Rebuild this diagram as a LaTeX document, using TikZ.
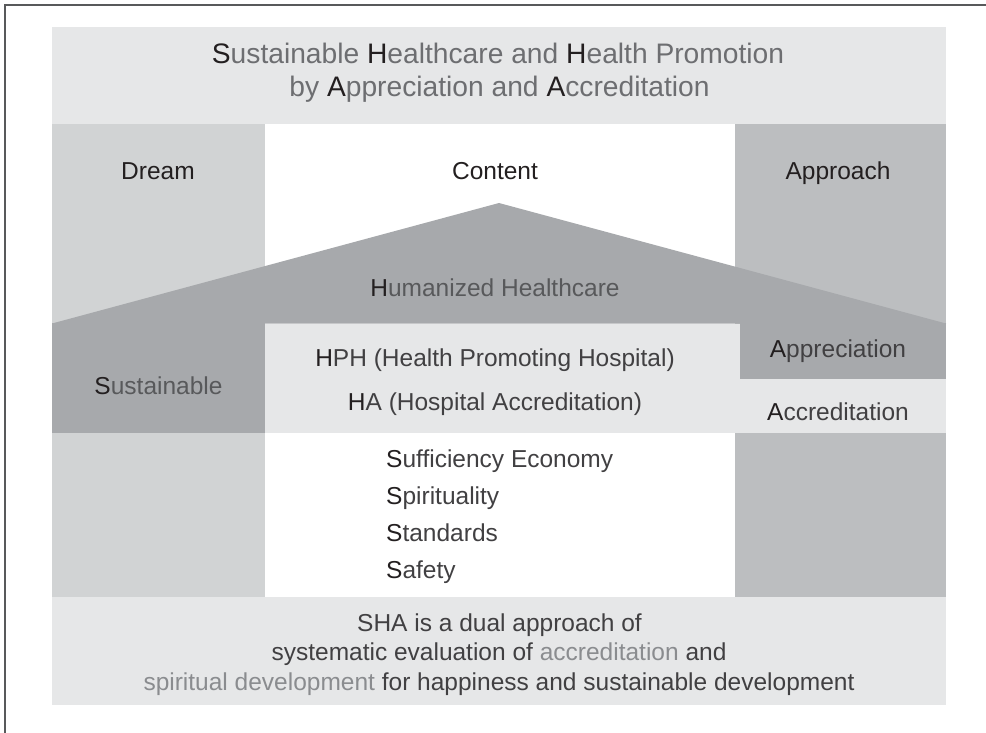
\documentclass[tikz,border=0pt]{standalone}
\usepackage{fontspec}
\setmainfont{Liberation Sans}
\definecolor{bandlight}{HTML}{E6E7E8}
\definecolor{colleft}{HTML}{D1D3D4}
\definecolor{colright}{HTML}{BCBEC0}
\definecolor{roofgrey}{HTML}{A7A9AC}
\definecolor{inkdark}{HTML}{231F20}
\definecolor{inkmid}{HTML}{414042}
\definecolor{inkgrey}{HTML}{58595B}
\definecolor{inktitle}{HTML}{6D6E71}
\definecolor{inklight}{HTML}{8A8C8F}
\definecolor{framegrey}{HTML}{58595B}
\newcommand{\ini}[1]{\textcolor{inkdark}{#1}}
\begin{document}
\begin{tikzpicture}[x=1pt,y=-1pt,
  lbl/.style={font=\fontsize{24.5}{29}\selectfont, anchor=base, inner sep=0pt, text=inkdark},
  sublbl/.style={lbl, text=inkgrey},
  ttl/.style={font=\fontsize{28.2}{34}\selectfont, anchor=base, inner sep=0pt, text=inktitle},
  listlbl/.style={lbl, anchor=base west, text=inkmid},
  botlbl/.style={lbl, text=inkmid}]
\useasboundingbox (0,0) rectangle (986,733);
% frame
\draw[line width=2pt, framegrey] (5,733) -- (5,5) -- (986,5);
% bands and columns
\fill[bandlight] (52,27) rectangle (946,124);
\fill[colleft] (52,124) rectangle (265,597);
\fill[colright] (735,124) rectangle (946,597);
\fill[roofgrey] (52,323.5) -- (499,203) -- (946,323.5) -- cycle;
\fill[roofgrey] (52,323) rectangle (265,433);
\fill[bandlight] (265,323.5) rectangle (740,433);
\fill[roofgrey] (740,323) rectangle (946,379);
\fill[bandlight] (740,379) rectangle (946,433);
\fill[bandlight] (52,597) rectangle (946,705);
% title
\node[ttl] (title1) at (498,63.5) {\ini{S}ustainable \ini{H}ealthcare and \ini{H}ealth Promotion};
\node[ttl] (title2) at (499.5,97) {by \ini{A}ppreciation and \ini{A}ccreditation};
% column headings
\node[lbl] (dream) at (158,179) {Dream};
\node[lbl] (content) at (495,179) {Content};
\node[lbl] (approach) at (838,179) {Approach};
% roof and middle
\node[sublbl] (humanized) at (495,296.5) {\ini{H}umanized Healthcare};
\node[sublbl] (sustainable) at (158.5,394) {\ini{S}ustainable};
\node[lbl, text=inkmid] (hph) at (495,366.5) {\ini{H}PH (Health Promoting Hospital)};
\node[lbl, text=inkmid] (ha) at (495,410) {\ini{H}A (Hospital Accreditation)};
\node[lbl, text=inkmid] (appreciation) at (838,357) {\ini{A}ppreciation};
\node[lbl, text=inkmid] (accreditation) at (838,420) {\ini{A}ccreditation};
% S list
\node[listlbl] (s1) at (386,467) {\ini{S}ufficiency Economy};
\node[listlbl] (s2) at (386,504) {\ini{S}pirituality};
\node[listlbl] (s3) at (386,541) {\ini{S}tandards};
\node[listlbl] (s4) at (386,578.5) {\ini{S}afety};
% bottom text
\node[botlbl] (b1) at (499.5,631.5) {SHA is a dual approach of};
\node[botlbl] (b2) at (499,660) {systematic evaluation of \textcolor{inklight}{accreditation} and};
\node[botlbl] (b3) at (499,690) {\textcolor{inklight}{spiritual development} for happiness and sustainable development};
\end{tikzpicture}
\end{document}
